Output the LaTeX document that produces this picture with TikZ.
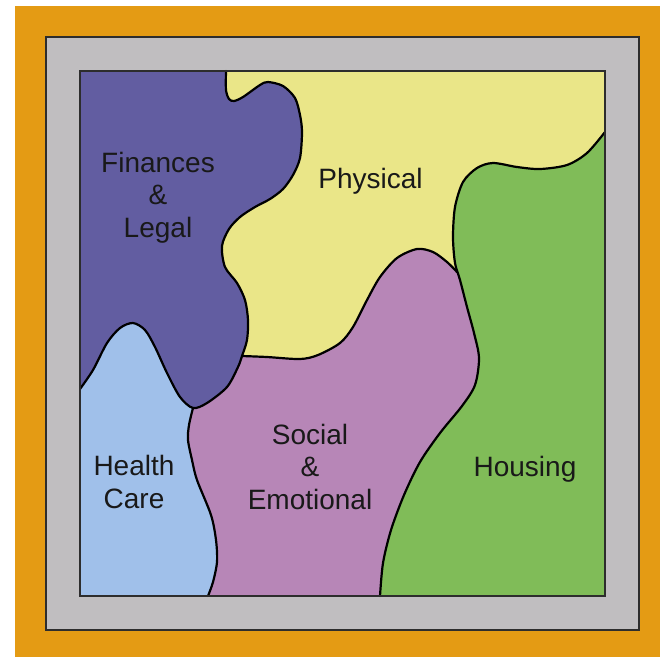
\documentclass[tikz,border=0pt]{standalone}
\usepackage{fontspec}
\setmainfont{Liberation Sans}
\definecolor{frameorange}{RGB}{228,155,20}
\definecolor{framegray}{RGB}{192,190,192}
\definecolor{edgegray}{RGB}{45,45,45}
\definecolor{finpurple}{RGB}{98,93,161}
\definecolor{physyellow}{RGB}{234,230,136}
\definecolor{housegreen}{RGB}{128,188,88}
\definecolor{socialpink}{RGB}{183,134,183}
\definecolor{healthblue}{RGB}{160,192,234}
\tikzset{
  curve/.style={draw=black, line width=2.2pt, line cap=round, line join=round},
  edge/.style={draw=edgegray, line width=1.6pt},
  label/.style={inner sep=0pt, align=center, anchor=base, font=\fontsize{28}{32.5}\selectfont, text=black!90}
}
\begin{document}
\begin{tikzpicture}[x=1pt,y=-1pt]
\useasboundingbox (0,0) rectangle (660,657);
\fill[frameorange] (15,6) rectangle (660,657);
\filldraw[fill=framegray, edge] (46,37) rectangle (639,630);
\fill[physyellow] (80,71) rectangle (605,596);
% social
\fill[socialpink] plot[smooth] coordinates {(242,356) (267,357) (300,359) (318,355) (340,343) (353,327) (367,300) (380,277) (397,258) (417,249) (433,252) (447,262) (457,272)} -- (540,272) -- (540,596) -- (140,596) -- (140,420) -- (215,356) -- cycle;
% housing
\fill[housegreen] plot[smooth] coordinates {(605,132) (587,153) (567,165) (540,169) (517,167) (493,163) (477,168) (463,182) (455,207) (453,237) (455,263) (460,280) (467,307) (474,333) (479,358) (475,385) (462,406) (440,433) (420,462) (404,495) (391,530) (383,563) (380,596)} -- (605,596) -- cycle;
% health
\fill[healthblue] (80,596) -- (80,300) -- (200,300) -- plot[smooth] coordinates {(193,408) (189,425) (188,440) (192,460) (197,480) (211,515) (216,540) (217,562) (213,582) (208,596)} -- cycle;
% finances
\fill[finpurple] (80,71) -- plot[smooth] coordinates {(226,71) (226,90) (229,99) (234,101) (243,97) (260,85) (268,82) (283,86) (295,98) (300,115) (302,132) (300,158) (293,175) (283,189) (270,199) (255,207) (240,217) (229,229) (222,246) (225,267) (237,283) (245,300) (248,320) (247,340) (242,356) (238,367) (227,387) (207,403) (193,408) (180,397) (167,373) (155,347) (145,330) (133,323) (120,328) (107,343) (93,370) (80,389)} -- cycle;
% boundaries
\draw[curve] plot[smooth] coordinates {(226,71) (226,90) (229,99) (234,101) (243,97) (260,85) (268,82) (283,86) (295,98) (300,115) (302,132) (300,158) (293,175) (283,189) (270,199) (255,207) (240,217) (229,229) (222,246) (225,267) (237,283) (245,300) (248,320) (247,340) (242,356) (238,367) (227,387) (207,403) (193,408) (180,397) (167,373) (155,347) (145,330) (133,323) (120,328) (107,343) (93,370) (80,389)};
\draw[curve] plot[smooth] coordinates {(605,132) (587,153) (567,165) (540,169) (517,167) (493,163) (477,168) (463,182) (455,207) (453,237) (455,263) (460,280) (467,307) (474,333) (479,358) (475,385) (462,406) (440,433) (420,462) (404,495) (391,530) (383,563) (380,596)};
\draw[curve] plot[smooth] coordinates {(242,356) (267,357) (300,359) (318,355) (340,343) (353,327) (367,300) (380,277) (397,258) (417,249) (433,252) (447,262) (457,272)};
\draw[curve] plot[smooth] coordinates {(193,408) (189,425) (188,440) (192,460) (197,480) (211,515) (216,540) (217,562) (213,582) (208,596)};
\draw[edge] (80,71) rectangle (605,596);
% labels (anchored at the baseline of the last line)
\node[label] (fin) at (158,237) {Finances\\\&\\Legal};
\node[label] (phys) at (370.5,188) {Physical};
\node[label] (health) at (134,508) {Health\\Care};
\node[label] (social) at (310,509) {Social\\\&\\Emotional};
\node[label] (housing) at (525,476) {Housing};
\end{tikzpicture}
\end{document}
